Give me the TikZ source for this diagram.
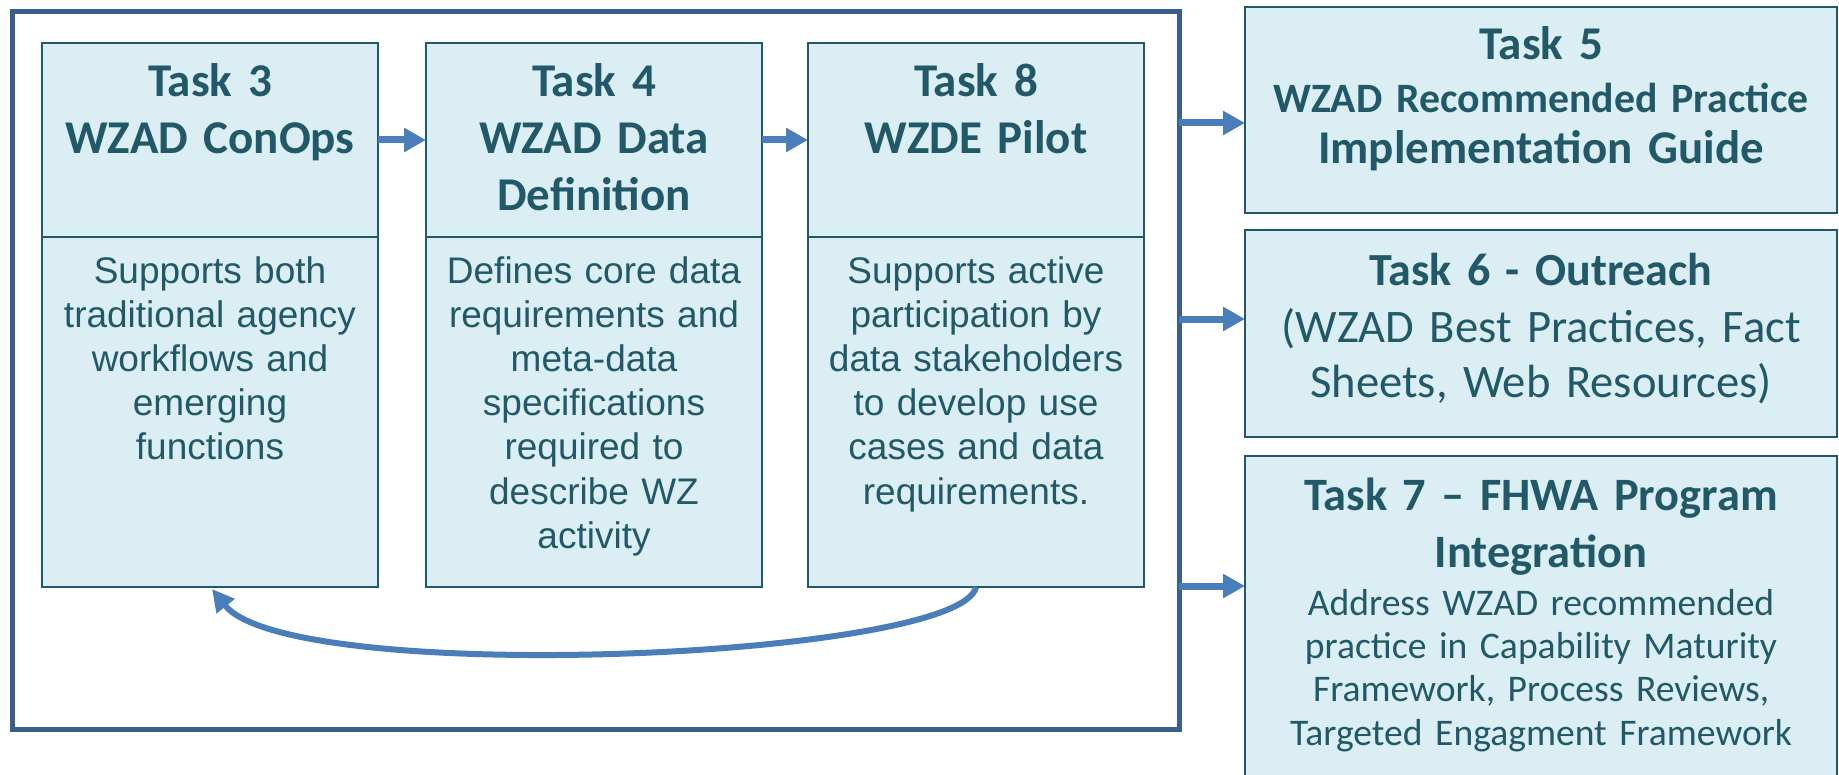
\documentclass[tikz,border=0pt]{standalone}
\usepackage{fontspec}
\setmainfont{Liberation Sans}
\newfontfamily\calibri{Carlito}
\usetikzlibrary{arrows.meta}
\definecolor{boxfill}{HTML}{DBEEF4}
\definecolor{boxline}{HTML}{215968}
\definecolor{txtc}{HTML}{215968}
\definecolor{arrowc}{HTML}{4A7EBB}
\definecolor{framec}{HTML}{3B5E8C}
\begin{document}
\begin{tikzpicture}[x=0.5pt,y=-0.5pt,
  box/.style={draw=boxline,fill=boxfill,line width=1pt,inner sep=0pt,outer sep=0pt},
  frame/.style={draw=framec,line width=2.5pt,inner sep=0pt,outer sep=0pt,minimum width=583.5pt,minimum height=358.5pt},
  flow/.style={draw=arrowc,line width=3.5pt,-{Triangle[length=11pt,width=11.5pt]}},
  back/.style={draw=arrowc,line width=3pt,-{Triangle[length=11pt,width=11pt]}},
  ttl/.style={text=txtc,anchor=base,align=center,text width=165pt,inner sep=0pt,
    font=\calibri\bfseries\fontsize{23.5pt}{28.5pt}\selectfont},
  bdy/.style={text=txtc,anchor=base,align=center,text width=165pt,inner sep=0pt,
    font=\fontsize{18.5pt}{22.1pt}\selectfont},
  rtxt/.style={text=txtc,anchor=base,align=center,text width=294pt,inner sep=0pt},
]
\useasboundingbox (0,0) rectangle (1839,775);
% outer frame
\node[frame] (frame) at (595.5,370.5) {};
% task boxes
\node[box,minimum width=168pt,minimum height=97pt] (t3h) at (210,140) {};
\node[box,minimum width=168pt,minimum height=175pt] (t3b) at (210,412) {};
\node[box,minimum width=168pt,minimum height=97pt] (t4h) at (594,140) {};
\node[box,minimum width=168pt,minimum height=175pt] (t4b) at (594,412) {};
\node[box,minimum width=168pt,minimum height=97pt] (t8h) at (976,140) {};
\node[box,minimum width=168pt,minimum height=175pt] (t8b) at (976,412) {};
% right boxes
\node[box,minimum width=296pt,minimum height=103pt] (t5) at (1541,110) {};
\node[box,minimum width=296pt,minimum height=103.5pt] (t6) at (1541,333.5) {};
\node[box,minimum width=296pt,minimum height=164.5pt] (t7) at (1541,620.5) {};
% titles
\node[ttl] (t3title) at (210,97) {Task 3\\WZAD ConOps};
\node[ttl] (t4title) at (594,97) {Task 4\\WZAD Data\\Definition};
\node[ttl] (t8title) at (976,97) {Task 8\\WZDE Pilot};
% bodies
\node[bdy] (t3text) at (210,283) {Supports both\\traditional agency\\workflows and\\emerging\\functions};
\node[bdy] (t4text) at (594,283) {Defines core data\\requirements and\\meta-data\\specifications\\required to\\describe WZ\\activity};
\node[bdy] (t8text) at (976,283) {Supports active\\participation by\\data stakeholders\\to develop use\\cases and data\\requirements.};
% right texts
\node[rtxt,font=\calibri\bfseries\fontsize{23.5pt}{28pt}\selectfont] (t5a) at (1541,60) {Task 5};
\node[rtxt,font=\calibri\bfseries\fontsize{20.9pt}{25pt}\selectfont] (t5b) at (1541,113) {WZAD Recommended Practice};
\node[rtxt,font=\calibri\bfseries\fontsize{23.5pt}{28pt}\selectfont] (t5c) at (1541,164) {Implementation Guide};
\node[rtxt,font=\calibri\bfseries\fontsize{23pt}{27pt}\selectfont] (t6a) at (1541,285) {Task 6 - Outreach};
\node[rtxt,font=\calibri\fontsize{23.3pt}{27.5pt}\selectfont] (t6b) at (1541,342) {(WZAD Best Practices, Fact\\Sheets, Web Resources)};
\node[rtxt,font=\calibri\bfseries\fontsize{23.2pt}{28.5pt}\selectfont] (t7a) at (1541,510) {Task 7 – FHWA Program\\Integration};
\node[rtxt,font=\calibri\fontsize{18.8pt}{21.7pt}\selectfont] (t7b) at (1541,615) {Address WZAD recommended\\practice in Capability Maturity\\Framework, Process Reviews,\\Targeted Engagment Framework};
% arrows between tasks
\draw[flow] (t3h) -- (t4h);
\draw[flow] (t4h) -- (t8h);
% arrows to right boxes
\coordinate (a5) at (1179,123);
\coordinate (a6) at (1179,319);
\coordinate (a7) at (1179,586);
\draw[flow] (a5) -- (a5 -| t5.west);
\draw[flow] (a6) -- (a6 -| t6.west);
\draw[flow] (a7) -- (a7 -| t7.west);
% feedback arrow
\draw[back] (t8b.south) .. controls (961,659) and (290,687) .. ([xshift=1pt,yshift=-1pt]t3b.south);
\end{tikzpicture}
\end{document}
